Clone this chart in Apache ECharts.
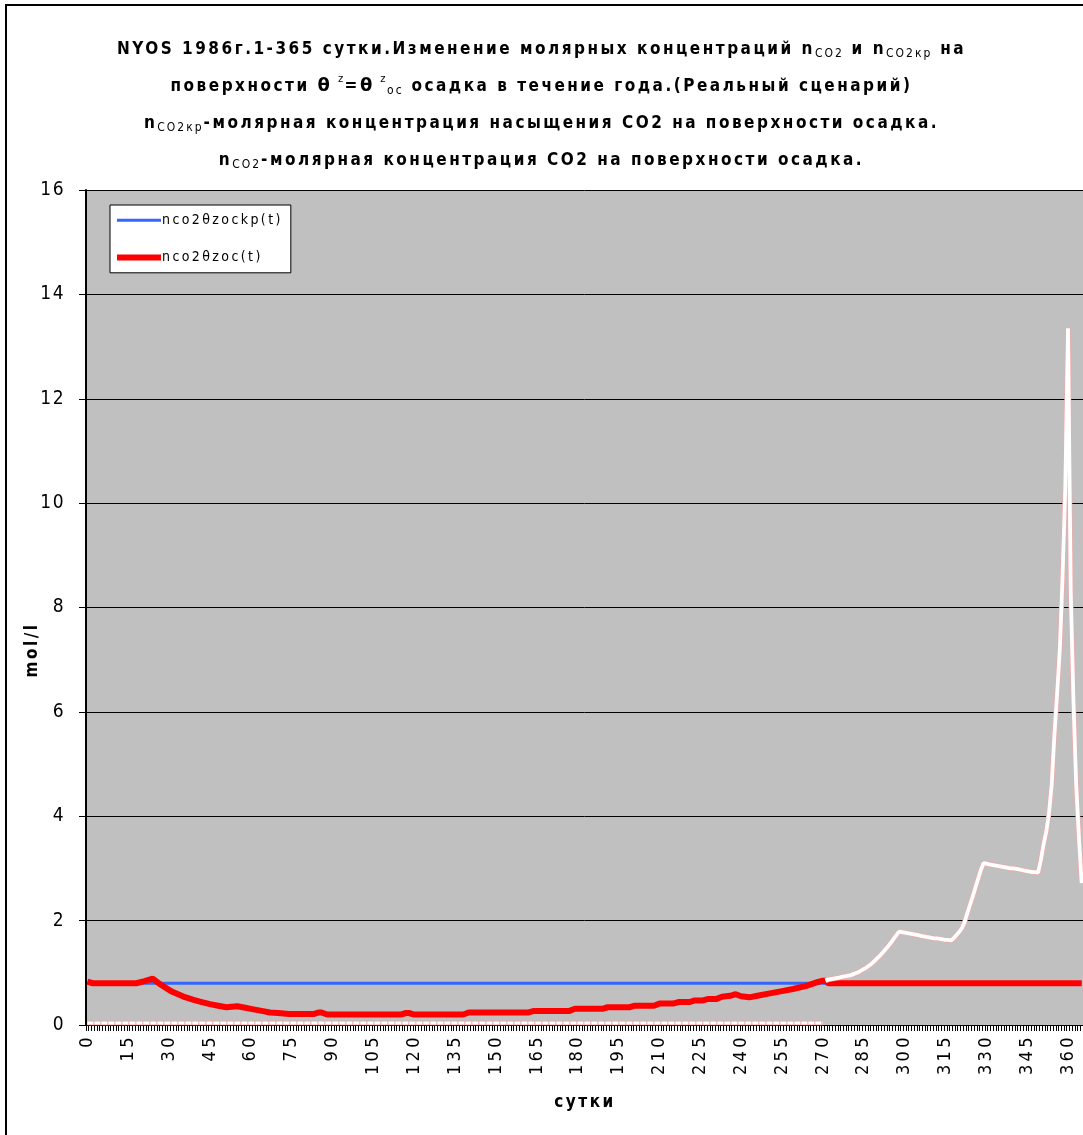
<!DOCTYPE html>
<html>
<head>
<meta charset="utf-8">
<title>NYOS 1986</title>
<script src="https://cdn.jsdelivr.net/npm/echarts@6/dist/echarts.min.js"></script>
<style>
  html, body { margin: 0; padding: 0; background: #fff; }
  #chart { width: 1083px; height: 1135px; }
</style>
</head>
<body>
<div id="chart"></div>
<script>
// Day numbers on the category axis (0..365)
const days = Array.from({ length: 366 }, (_, i) => i);
const labelStep = 15;

// Saturation concentration on the sediment surface, mol/l
const critDays = [0, 365];
const critVals = [0.80, 0.80];

// Surface concentration nco2(t), mol/l (breakpoints)
const surfDays = [0, 2, 18, 21, 24, 27, 31, 35, 39, 42, 45, 48, 51, 53, 55, 57, 61, 64, 67, 70,
  74, 83, 85, 86, 88, 115, 117, 118, 120, 138, 140, 162, 164, 177, 179, 189, 191, 199, 201, 208,
  210, 215, 217, 221, 223, 226, 228, 231, 233, 236, 238, 240, 243, 246, 251, 255, 259, 264, 268, 270,
  271, 272, 365];
const surfVals = [0.83, 0.80, 0.80, 0.84, 0.89, 0.77, 0.64, 0.55, 0.48, 0.44, 0.40, 0.37, 0.34, 0.35, 0.36, 0.34, 0.30, 0.27, 0.24, 0.23,
  0.21, 0.21, 0.24, 0.24, 0.20, 0.20, 0.23, 0.23, 0.20, 0.20, 0.24, 0.24, 0.27, 0.27, 0.31, 0.31, 0.34, 0.34, 0.37, 0.37,
  0.41, 0.41, 0.44, 0.44, 0.47, 0.47, 0.50, 0.50, 0.54, 0.56, 0.59, 0.55, 0.53, 0.56, 0.61, 0.65, 0.69, 0.75, 0.82, 0.85,
  0.85, 0.80, 0.80];

// Computed surface concentration, days 0..270 (near zero)
const calcLowDays = [0, 270];
const calcLowVals = [0.04, 0.04];

// Computed surface concentration, one value per day from day 271 to 365
const calcHighStart = 271;
const calcHighVals = [
  0.85, 0.87, 0.88, 0.89, 0.90, 0.91, 0.92, 0.93, 0.94, 0.95,
  0.97, 0.99, 1.01, 1.04, 1.07, 1.10, 1.14, 1.18, 1.23, 1.28,
  1.33, 1.39, 1.45, 1.51, 1.58, 1.65, 1.72, 1.79, 1.78, 1.77,
  1.76, 1.75, 1.74, 1.73, 1.72, 1.71, 1.70, 1.69, 1.68, 1.67,
  1.66, 1.66, 1.65, 1.64, 1.63, 1.63, 1.62, 1.66, 1.72, 1.78,
  1.85, 1.97, 2.14, 2.30, 2.46, 2.63, 2.80, 2.97, 3.10, 3.09,
  3.08, 3.07, 3.06, 3.05, 3.04, 3.03, 3.02, 3.01, 3.00, 3.00,
  2.99, 2.98, 2.97, 2.96, 2.95, 2.94, 2.93, 2.93, 2.92, 3.15,
  3.45, 3.70, 4.05, 4.60, 5.55, 6.35, 7.20, 8.60, 10.30, 13.35,
  8.30, 6.20, 4.60, 3.60, 2.72
];

// Letter tracking (px) for canvas text, chosen by font size
const TRACK = { 11: 1.5, 12: 2, 14: 2.4, 17: 2.5, 18: 3.4, 19: 1.5 };
(function () {
  const proto = CanvasRenderingContext2D.prototype;
  const d = Object.getOwnPropertyDescriptor(proto, 'font');
  if (!d || !('letterSpacing' in proto)) return;
  Object.defineProperty(proto, 'font', {
    configurable: true,
    get() { return d.get.call(this); },
    set(v) {
      d.set.call(this, v);
      const m = /(\d+(?:\.\d+)?)px/.exec(v);
      const size = m ? Math.round(parseFloat(m[1])) : 0;
      const t = TRACK[size] != null ? TRACK[size] : size * 0.15;
      this.letterSpacing = t.toFixed(1) + 'px';
    }
  });
})();

const NARROW = "'Liberation Sans Narrow', 'DejaVu Sans Condensed', 'Liberation Sans', sans-serif";

const pairs = (xs, ys) => xs.map((x, i) => [x, ys[i]]);
const calcHigh = calcHighVals.map((v, i) => [calcHighStart + i, v]);

const titleText =
  '{b|NYOS 1986г.1-365 сутки.Изменение молярных концентраций n}{s|CO2}{b| и n}{s|CO2кр}{b| на}\n' +
  '{b|поверхности }{th|θ}{sup| z}{b|=}{th|θ}{sup| z}{s|oc}{b| осадка в течение года.(Реальный сценарий)}\n' +
  '{b|n}{s|CO2кр}{b|-молярная концентрация насыщения CO2 на поверхности осадка.}\n' +
  '{b|n}{s|CO2}{b|-молярная концентрация CO2 на поверхности осадка.}';

const chart = echarts.init(document.getElementById('chart'), null, { renderer: 'canvas' });

chart.setOption({
  animation: false,
  backgroundColor: '#ffffff',
  title: {
    text: titleText,
    left: 'center',
    top: 31,
    padding: 0,
    textStyle: {
      rich: {
        b: { fontFamily: NARROW, fontWeight: 'bold', fontSize: 17, color: '#000', lineHeight: 37 },
        s: { fontFamily: NARROW, fontWeight: 'normal', fontSize: 12, color: '#000', lineHeight: 37, verticalAlign: 'bottom', padding: [0, 0, 7, 0] },
        sup: { fontFamily: NARROW, fontWeight: 'normal', fontSize: 11, color: '#000', lineHeight: 37, verticalAlign: 'top', padding: [5, 0, 0, 0] },
        th: { fontFamily: "'DejaVu Sans', sans-serif", fontWeight: 'bold', fontSize: 18, color: '#000', lineHeight: 37 }
      }
    }
  },
  legend: {
    orient: 'vertical',
    left: 110,
    top: 205,
    padding: [7, 8, 7, 4],
    itemGap: 21,
    itemWidth: 44,
    itemHeight: 14,
    backgroundColor: '#ffffff',
    borderColor: '#000',
    borderWidth: 1,
    borderRadius: 0,
    itemStyle: { opacity: 0 },
    data: [
      { name: 'nco2θzockp(t)', lineStyle: { width: 3 } },
      { name: 'nco2θzoc(t)', lineStyle: { width: 6 } }
    ],
    textStyle: { fontFamily: NARROW, fontSize: 14, color: '#000', padding: [0, 0, 0, -4] }
  },
  grid: {
    left: 86, top: 190, right: 0, bottom: 110,
    show: true, backgroundColor: '#c0c0c0', borderWidth: 0,
    containLabel: false
  },
  xAxis: {
    type: 'category',
    data: days,
    boundaryGap: true,
    axisLine: { lineStyle: { color: '#000', width: 1 } },
    axisTick: { show: true, interval: 0, length: 6, lineStyle: { color: '#000', width: 1 } },
    axisLabel: {
      interval: labelStep - 1,
      rotate: 90,
      margin: 9,
      fontFamily: NARROW,
      fontSize: 18,
      color: '#000'
    },
    splitLine: { show: false }
  },
  yAxis: {
    type: 'value',
    min: 0, max: 16, interval: 2,
    axisLine: { show: true, lineStyle: { color: '#000', width: 2 } },
    axisTick: { show: true, length: 7, lineStyle: { color: '#000', width: 1 } },
    axisLabel: { margin: 21, fontFamily: NARROW, fontSize: 19, color: '#000' },
    splitLine: { show: true, lineStyle: { color: '#000', width: 1 } }
  },
  graphic: [
    {
      type: 'rect', silent: true, z: 100,
      shape: { x: 6, y: 5, width: 1100, height: 1140 },
      style: { fill: 'none', stroke: '#000', lineWidth: 2 }
    },
    {
      type: 'text', silent: true,
      x: 33, y: 650, rotation: Math.PI / 2,
      style: { text: 'mol/l', fontFamily: NARROW, fontWeight: 'bold', fontSize: 17, fill: '#000', align: 'center', verticalAlign: 'middle' }
    },
    {
      type: 'text', silent: true,
      x: 585, y: 1103,
      style: { text: 'сутки', fontFamily: NARROW, fontWeight: 'bold', fontSize: 17, fill: '#000', align: 'center', verticalAlign: 'middle' }
    }
  ],
  series: [
    {
      name: 'nco2θzockp(t)', type: 'line', data: pairs(critDays, critVals),
      symbol: 'none', z: 2,
      lineStyle: { color: '#3366ff', width: 3 }, itemStyle: { color: '#3366ff' }
    },
    {
      name: 'nco2θzoc(t)', type: 'line', data: pairs(surfDays, surfVals),
      symbol: 'none', z: 3,
      lineStyle: { color: '#ff0000', width: 6 }, itemStyle: { color: '#ff0000' }
    },
    {
      name: 'edge-low', type: 'line', data: pairs(calcLowDays, calcLowVals),
      symbol: 'none', z: 4, lineStyle: { color: '#f2a0a0', width: 4.5 }
    },
    {
      name: 'nco2θz(t)', type: 'line', data: pairs(calcLowDays, calcLowVals),
      symbol: 'none', z: 5, lineStyle: { color: '#ffffff', width: 3, type: [6, 1] }
    },
    {
      name: 'edge-high', type: 'line', data: calcHigh,
      symbol: 'none', z: 4, lineStyle: { color: '#f2a8a8', width: 5 }
    },
    {
      name: 'nco2θz(t) ', type: 'line', data: calcHigh,
      symbol: 'none', z: 5, lineStyle: { color: '#ffffff', width: 3.8 }
    }
  ]
});
</script>
</body>
</html>
